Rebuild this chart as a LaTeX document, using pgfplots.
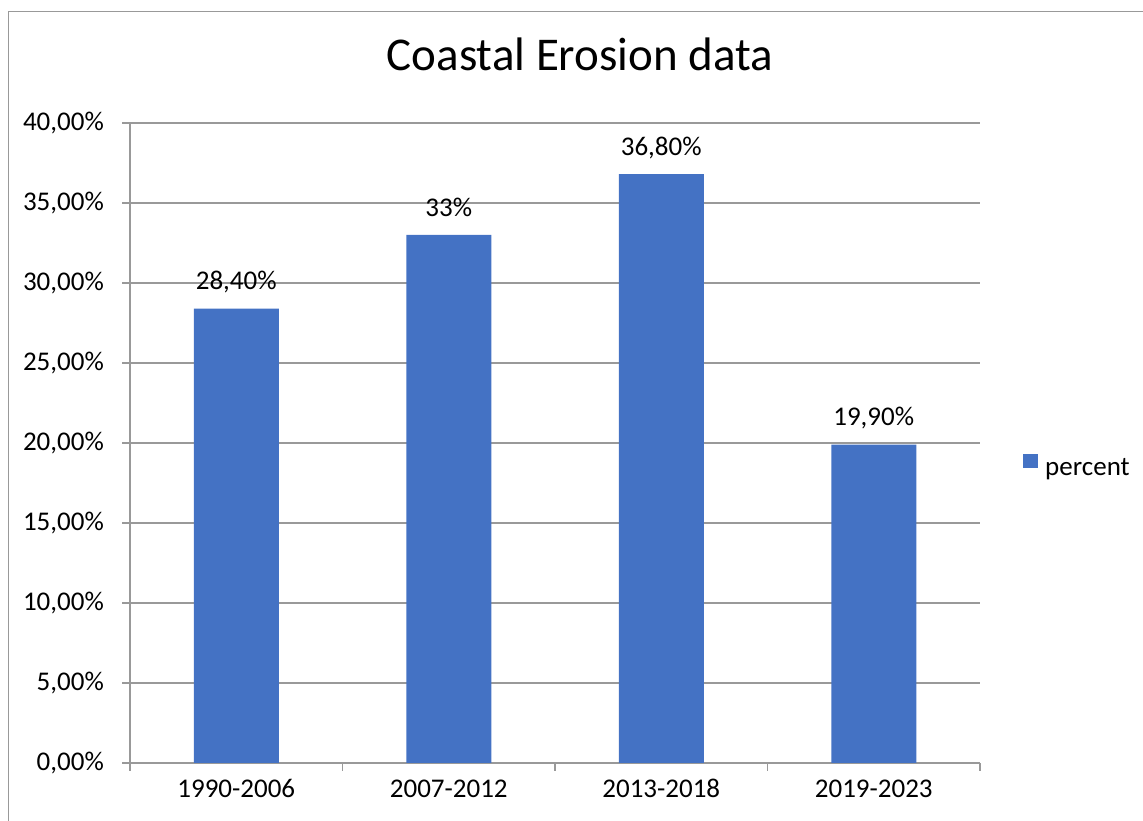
\documentclass[border=0pt]{standalone}
\usepackage{fontspec}
\setmainfont{Carlito}
\usepackage{pgfplots}
\pgfplotsset{compat=1.18}
\definecolor{barblue}{HTML}{4472C4}
\definecolor{axgray}{HTML}{999999}
\begin{document}
\begin{tikzpicture}[x=1pt,y=1pt]
\useasboundingbox (0,0) rectangle (1143,821);
\draw[axgray, line width=1.3pt] (8.3,0) -- (8.3,809.7) -- (1143,809.7);
\node[font=\fontsize{47}{56}\selectfont, anchor=base, inner sep=0pt] at (580,750) {Coastal Erosion data};
\begin{axis}[
  at={(130pt,58pt)}, anchor=south west,
  scale only axis, width=850pt, height=640pt,
  xmin=0, xmax=4, ymin=0, ymax=40,
  axis lines*=left,
  axis line style={axgray, line width=1.3pt},
  tick style={axgray, line width=1.3pt},
  tick align=outside, major tick length=8pt,
  xtick={0,1,2,3,4}, xticklabels={},
  extra x ticks={0.5,1.5,2.5,3.5},
  extra x tick labels={1990-2006,2007-2012,2013-2018,2019-2023},
  extra x tick style={major tick length=0pt},
  ytick={0,5,10,15,20,25,30,35,40},
  yticklabels={{0,00\%},{5,00\%},{10,00\%},{15,00\%},{20,00\%},{25,00\%},{30,00\%},{35,00\%},{40,00\%}},
  ymajorgrids, grid style={axgray, line width=1.3pt},
  ticklabel style={font=\fontsize{27}{32}\selectfont, inner sep=0pt},
  yticklabel style={anchor=base east, xshift=-18pt, yshift=-8pt},
  xticklabel style={anchor=base, yshift=-35pt},
  ybar, bar width=85pt, bar shift=0pt,
  legend style={at={(axis description cs:1.0506,0.4650)}, anchor=west, draw=none, fill=none,
    inner sep=0pt, column sep=7pt, font=\fontsize{27}{32}\selectfont, nodes={inner sep=0pt}},
  legend image code/.code={\fill[barblue] (0pt,0pt) rectangle (15pt,14.5pt);},
]
\addplot[fill=barblue, draw=none, point meta=explicit symbolic,
  nodes near coords={\smash{\pgfplotspointmeta}},
  every node near coord/.append style={font=\fontsize{27}{32}\selectfont, text=black, inner sep=0pt, yshift=18pt}]
  coordinates {(0.5,28.4) [28,40\%] (1.5,33) [33\%] (2.5,36.8) [36,80\%] (3.5,19.9) [19,90\%]};
\addlegendentry{percent}
\end{axis}
\end{tikzpicture}
\end{document}
